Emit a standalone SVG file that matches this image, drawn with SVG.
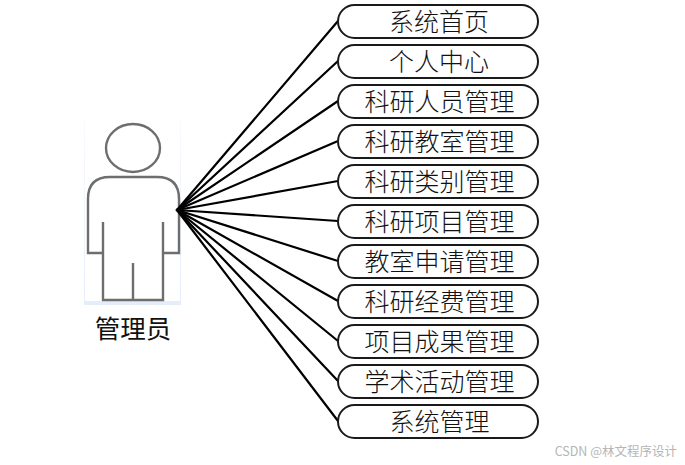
<svg xmlns="http://www.w3.org/2000/svg" width="685" height="465" viewBox="0 0 685 465">
<defs>
<linearGradient id="shade" x1="0" y1="0" x2="0" y2="1"><stop offset="0" stop-color="#f8fbff"/><stop offset="1" stop-color="#e4eefa"/></linearGradient>
</defs>
<style>
.n rect{fill:#fff;stroke:#1a1a1a;stroke-width:2}
.n text{font-family:"Noto Sans CJK SC","Noto Sans CJK JP",serif;font-size:25px;font-weight:300;fill:#111;text-anchor:middle}
#connectors line{stroke:#000;stroke-width:2.2;stroke-linecap:round}
.p{fill:none;stroke:#6e6e6e;stroke-width:2.4}
</style>
<rect width="685" height="465" fill="#fff"/>
<g id="actor">
<rect x="84" y="118" width="97" height="187" fill="url(#shade)"/>
<rect x="85" y="118" width="95" height="183" fill="#fff"/>
<ellipse class="p" cx="133" cy="148" rx="27" ry="24"/>
<path class="p" d="M103 253H88V199Q88 177 110 177H157Q179 177 179 199V253H163M103 222V300H163V222M133 263V300"/>
<text x="133" y="338" font-family="Noto Sans CJK SC,sans-serif" font-size="25.5" fill="#111" text-anchor="middle">管理员</text>
</g>
<g id="connectors">
<line x1="177" y1="210" x2="338" y2="21"/>
<line x1="177" y1="210" x2="338" y2="61"/>
<line x1="177" y1="210" x2="338" y2="101"/>
<line x1="177" y1="210" x2="338" y2="141"/>
<line x1="177" y1="210" x2="338" y2="181"/>
<line x1="177" y1="210" x2="338" y2="221"/>
<line x1="177" y1="210" x2="338" y2="261"/>
<line x1="177" y1="210" x2="338" y2="301"/>
<line x1="177" y1="210" x2="338" y2="341"/>
<line x1="177" y1="210" x2="338" y2="381"/>
<line x1="177" y1="210" x2="338" y2="421"/>
</g>
<g id="n1" class="n"><rect x="338" y="5" width="200" height="33" rx="16.5"/><text x="439" y="30.5">系统首页</text></g>
<g id="n2" class="n"><rect x="338" y="45" width="200" height="33" rx="16.5"/><text x="439" y="70.5">个人中心</text></g>
<g id="n3" class="n"><rect x="338" y="85" width="200" height="33" rx="16.5"/><text x="439.500" y="110.500">科研人员管理</text></g>
<g id="n4" class="n"><rect x="338" y="125" width="200" height="33" rx="16.5"/><text x="439.500" y="150.500">科研教室管理</text></g>
<g id="n5" class="n"><rect x="338" y="165" width="200" height="33" rx="16.5"/><text x="439.500" y="190.500">科研类别管理</text></g>
<g id="n6" class="n"><rect x="338" y="205" width="200" height="33" rx="16.5"/><text x="439.500" y="230.500">科研项目管理</text></g>
<g id="n7" class="n"><rect x="338" y="245" width="200" height="33" rx="16.5"/><text x="439.500" y="270.500">教室申请管理</text></g>
<g id="n8" class="n"><rect x="338" y="285" width="200" height="33" rx="16.5"/><text x="439.500" y="310.500">科研经费管理</text></g>
<g id="n9" class="n"><rect x="338" y="325" width="200" height="33" rx="16.5"/><text x="439.500" y="350.500">项目成果管理</text></g>
<g id="n10" class="n"><rect x="338" y="365" width="200" height="33" rx="16.5"/><text x="439.500" y="390.500">学术活动管理</text></g>
<g id="n11" class="n"><rect x="338" y="405" width="200" height="33" rx="16.5"/><text x="439.500" y="430.500">系统管理</text></g>
<text x="677" y="456" font-family="Noto Sans CJK SC,sans-serif" font-size="12.500" fill="#b5b5b5" text-anchor="end">CSDN @林文程序设计</text>
</svg>
